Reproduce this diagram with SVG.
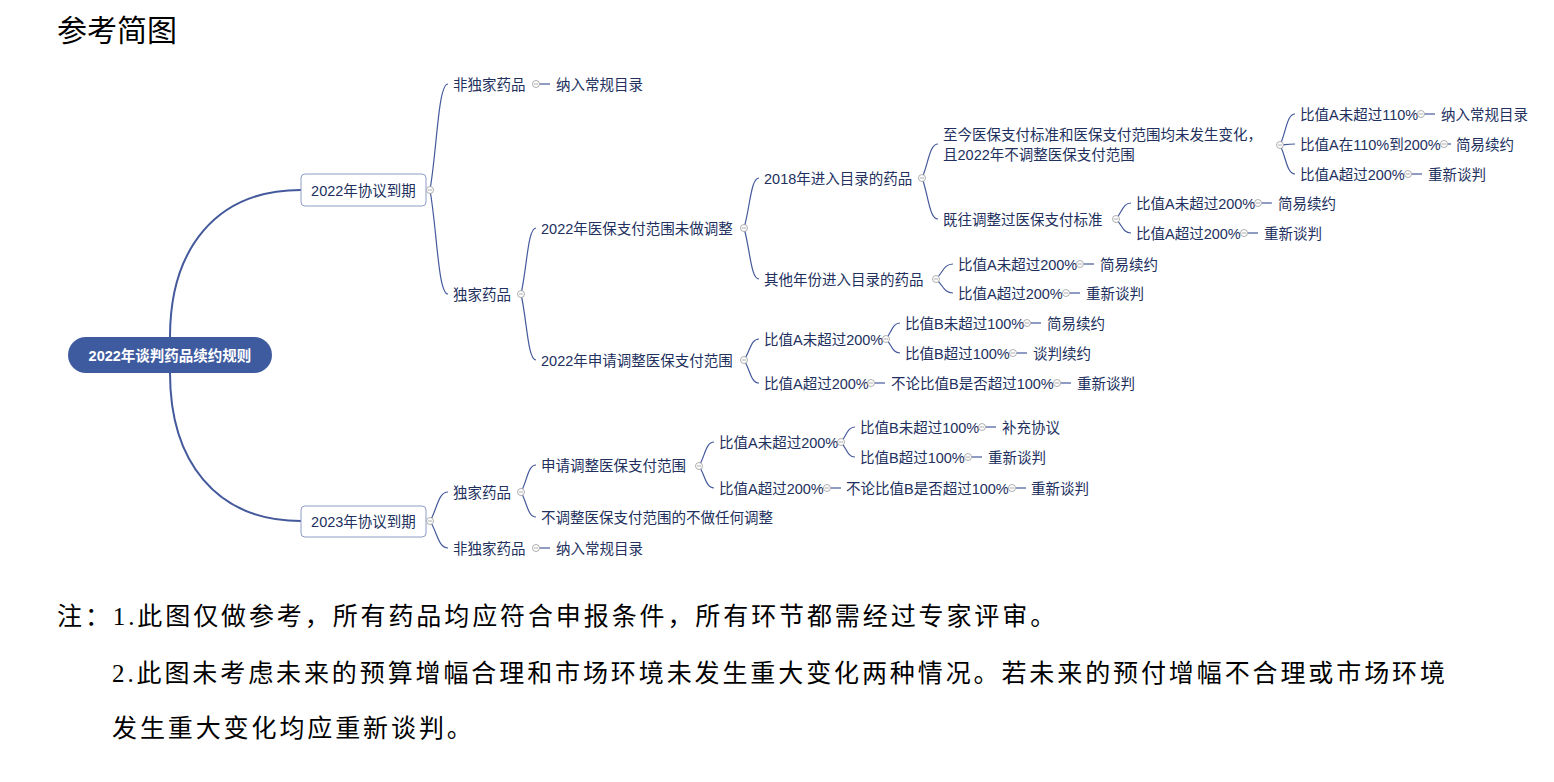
<svg xmlns="http://www.w3.org/2000/svg" xmlns:xlink="http://www.w3.org/1999/xlink" width="1554" height="782" viewBox="0 0 1554 782">
<style>
.t{font-family:"Liberation Sans","Noto Sans CJK SC",sans-serif;font-size:14.5px;fill:#22305e}
.rt{font-family:"Liberation Sans","Noto Sans CJK SC",sans-serif;font-size:14.5px;font-weight:bold;fill:#ffffff}
.b{fill:none;stroke:#44599c;stroke-width:1.2}
.rb{fill:none;stroke:#44599c;stroke-width:2}
.d{stroke:#44599c;stroke-width:1.2}
.box{fill:#ffffff;stroke:#8d9cc6;stroke-width:1}
.title{font-family:"Noto Sans CJK SC",sans-serif;font-size:30px;fill:#000}
.note{font-family:"Liberation Serif","Noto Sans CJK SC",serif;font-size:25px;letter-spacing:2.9px;fill:#000}
</style>
<defs>
<g id="mk"><circle cx="0" cy="0" r="3.5" fill="#ffffff" stroke="#9a9a9a" stroke-width="0.8"/><line x1="-2" y1="0" x2="2" y2="0" stroke="#9a9a9a" stroke-width="0.8"/></g>
</defs>
<rect width="1554" height="782" fill="#ffffff"/>
<text class="title" x="57" y="41">参考简图</text>

<g id="connectors">
<path class="rb" d="M170,337 C170,250 215,190 301,190"/>
<path class="rb" d="M170,373 C170,460 215,521 301,521"/>
<path class="b" d="M430,190 C437.2,147.6 438.1,84 448,84"/>
<path class="b" d="M430,190 C437.2,231.6 438.1,294 448,294"/>
<path class="b" d="M521,294 C527,267.6 527.75,228 536,228"/>
<path class="b" d="M521,294 C527,320.4 527.75,360 536,360"/>
<path class="b" d="M744,228 C750,208 750.75,178 759,178"/>
<path class="b" d="M744,228 C750,248.4 750.75,279 759,279"/>
<path class="b" d="M922,178 C928.4,164.4 929.2,144 938,144"/>
<path class="b" d="M922,178 C928.4,194.4 929.2,219 938,219"/>
<path class="b" d="M1280,145 C1286,132.6 1286.75,114 1295,114"/>
<path class="b" d="M1280,145 C1286,144.6 1286.75,144 1295,144"/>
<path class="b" d="M1280,145 C1286,156.6 1286.75,174 1295,174"/>
<path class="b" d="M1116,219 C1122,212.6 1122.75,203 1131,203"/>
<path class="b" d="M1116,219 C1122,224.6 1122.75,233 1131,233"/>
<path class="b" d="M936,279 C942.8,273 943.65,264 953,264"/>
<path class="b" d="M936,279 C942.8,284.6 943.65,293 953,293"/>
<path class="b" d="M744,360 C750,351.6 750.75,339 759,339"/>
<path class="b" d="M744,360 C750,369.2 750.75,383 759,383"/>
<path class="b" d="M886,339 C891.6,332.6 892.3,323 900,323"/>
<path class="b" d="M886,339 C891.6,344.6 892.3,353 900,353"/>
<path class="b" d="M430,521 C437.2,509.4 438.1,492 448,492"/>
<path class="b" d="M430,521 C437.2,531.8 438.1,548 448,548"/>
<path class="b" d="M521,492 C527,481.8 527.75,465 536,465"/>
<path class="b" d="M521,492 C527,502.6 527.75,517 536,517"/>
<path class="b" d="M699,466 C705,456.4 705.75,442 714,442"/>
<path class="b" d="M699,466 C705,474.8 705.75,488 714,488"/>
<path class="b" d="M841,442 C846.6,436 847.3,427 855,427"/>
<path class="b" d="M841,442 C846.6,448 847.3,457 855,457"/>
<line class="d" x1="539.5" y1="84" x2="550" y2="84"/>
<line class="d" x1="539.5" y1="548" x2="550" y2="548"/>
<line class="d" x1="874.5" y1="383" x2="885" y2="383"/>
<line class="d" x1="1060.5" y1="383" x2="1071" y2="383"/>
<line class="d" x1="830.5" y1="488" x2="841" y2="488"/>
<line class="d" x1="1015.5" y1="488" x2="1026" y2="488"/>
<line class="d" x1="1083.5" y1="264" x2="1094" y2="264"/>
<line class="d" x1="1069.5" y1="293" x2="1080" y2="293"/>
<line class="d" x1="1030.5" y1="323" x2="1041" y2="323"/>
<line class="d" x1="1016.5" y1="353" x2="1027" y2="353"/>
<line class="d" x1="985.5" y1="427" x2="996" y2="427"/>
<line class="d" x1="971.5" y1="457" x2="982" y2="457"/>
<line class="d" x1="1424.5" y1="114" x2="1435" y2="114"/>
<line class="d" x1="1447.5" y1="144" x2="1451" y2="144"/>
<line class="d" x1="1411.5" y1="174" x2="1422" y2="174"/>
<line class="d" x1="1261.5" y1="203" x2="1272" y2="203"/>
<line class="d" x1="1247.5" y1="233" x2="1258" y2="233"/>
</g>

<g id="root">
<rect x="68" y="337" width="204" height="36" rx="18" fill="#3f5ba0"/>
<text class="rt" x="170" y="360.5" text-anchor="middle">2022年谈判药品续约规则</text>
</g>

<g id="n2022">
<rect class="box" x="301" y="174" width="125" height="32" rx="4"/>
<text class="t" x="363.5" y="195.5" text-anchor="middle">2022年协议到期</text>
<use xlink:href="#mk" href="#mk" x="430" y="190"/>
</g>
<g id="n2023">
<rect class="box" x="301" y="506" width="125" height="31" rx="4"/>
<text class="t" x="363.5" y="527" text-anchor="middle">2023年协议到期</text>
<use xlink:href="#mk" href="#mk" x="430" y="521"/>
</g>

<g id="n22-nonexcl"><text class="t" x="453" y="89.5">非独家药品</text><use xlink:href="#mk" href="#mk" x="536" y="84"/></g>
<g id="n22-nonexcl-r"><text class="t" x="556" y="89.5">纳入常规目录</text></g>
<g id="n22-excl"><text class="t" x="453" y="299.5">独家药品</text><use xlink:href="#mk" href="#mk" x="521" y="294"/></g>

<g id="n22-noadj"><text class="t" x="541" y="233.5">2022年医保支付范围未做调整</text><use xlink:href="#mk" href="#mk" x="744" y="228"/></g>
<g id="n22-adj"><text class="t" x="541" y="365.5">2022年申请调整医保支付范围</text><use xlink:href="#mk" href="#mk" x="744" y="360"/></g>

<g id="n2018"><text class="t" x="764" y="183.5">2018年进入目录的药品</text><use xlink:href="#mk" href="#mk" x="922" y="178"/></g>
<g id="nother"><text class="t" x="764" y="284.5">其他年份进入目录的药品</text><use xlink:href="#mk" href="#mk" x="936" y="279"/></g>

<g id="nunchanged"><text class="t" x="943" y="139.5">至今医保支付标准和医保支付范围均未发生变化，</text><text class="t" x="943" y="159.5">且2022年不调整医保支付范围</text><use xlink:href="#mk" href="#mk" x="1280" y="145"/></g>
<g id="nadjstd"><text class="t" x="943" y="224.5">既往调整过医保支付标准</text><use xlink:href="#mk" href="#mk" x="1116" y="219"/></g>

<g id="nu1"><text class="t" x="1300" y="119.5">比值A未超过110%</text><use xlink:href="#mk" href="#mk" x="1421" y="114"/></g>
<g id="nu1r"><text class="t" x="1441" y="119.5">纳入常规目录</text></g>
<g id="nu2"><text class="t" x="1300" y="149.5">比值A在110%到200%</text><use xlink:href="#mk" href="#mk" x="1444" y="144"/></g>
<g id="nu2r"><text class="t" x="1456" y="149.5">简易续约</text></g>
<g id="nu3"><text class="t" x="1300" y="179.5">比值A超过200%</text><use xlink:href="#mk" href="#mk" x="1408" y="174"/></g>
<g id="nu3r"><text class="t" x="1428" y="179.5">重新谈判</text></g>

<g id="na1"><text class="t" x="1136" y="208.5">比值A未超过200%</text><use xlink:href="#mk" href="#mk" x="1258" y="203"/></g>
<g id="na1r"><text class="t" x="1278" y="208.5">简易续约</text></g>
<g id="na2"><text class="t" x="1136" y="238.5">比值A超过200%</text><use xlink:href="#mk" href="#mk" x="1244" y="233"/></g>
<g id="na2r"><text class="t" x="1264" y="238.5">重新谈判</text></g>

<g id="no1"><text class="t" x="958" y="269.5">比值A未超过200%</text><use xlink:href="#mk" href="#mk" x="1080" y="264"/></g>
<g id="no1r"><text class="t" x="1100" y="269.5">简易续约</text></g>
<g id="no2"><text class="t" x="958" y="298.5">比值A超过200%</text><use xlink:href="#mk" href="#mk" x="1066" y="293"/></g>
<g id="no2r"><text class="t" x="1086" y="298.5">重新谈判</text></g>

<g id="nj1"><text class="t" x="764" y="344.5">比值A未超过200%</text><use xlink:href="#mk" href="#mk" x="886" y="339"/></g>
<g id="nj1a"><text class="t" x="905" y="328.5">比值B未超过100%</text><use xlink:href="#mk" href="#mk" x="1027" y="323"/></g>
<g id="nj1ar"><text class="t" x="1047" y="328.5">简易续约</text></g>
<g id="nj1b"><text class="t" x="905" y="358.5">比值B超过100%</text><use xlink:href="#mk" href="#mk" x="1013" y="353"/></g>
<g id="nj1br"><text class="t" x="1033" y="358.5">谈判续约</text></g>
<g id="nj2"><text class="t" x="764" y="388.5">比值A超过200%</text><use xlink:href="#mk" href="#mk" x="871" y="383"/></g>
<g id="nj2a"><text class="t" x="891" y="388.5">不论比值B是否超过100%</text><use xlink:href="#mk" href="#mk" x="1057" y="383"/></g>
<g id="nj2ar"><text class="t" x="1077" y="388.5">重新谈判</text></g>

<g id="n23-excl"><text class="t" x="453" y="497.5">独家药品</text><use xlink:href="#mk" href="#mk" x="521" y="492"/></g>
<g id="n23-nonexcl"><text class="t" x="453" y="553.5">非独家药品</text><use xlink:href="#mk" href="#mk" x="536" y="548"/></g>
<g id="n23-nonexcl-r"><text class="t" x="556" y="553.5">纳入常规目录</text></g>
<g id="n23-adj"><text class="t" x="541" y="470.5">申请调整医保支付范围</text><use xlink:href="#mk" href="#mk" x="699" y="466"/></g>
<g id="n23-noadj"><text class="t" x="541" y="522.5">不调整医保支付范围的不做任何调整</text></g>

<g id="nk1"><text class="t" x="719" y="447.5">比值A未超过200%</text><use xlink:href="#mk" href="#mk" x="841" y="442"/></g>
<g id="nk1a"><text class="t" x="860" y="432.5">比值B未超过100%</text><use xlink:href="#mk" href="#mk" x="982" y="427"/></g>
<g id="nk1ar"><text class="t" x="1002" y="432.5">补充协议</text></g>
<g id="nk1b"><text class="t" x="860" y="462.5">比值B超过100%</text><use xlink:href="#mk" href="#mk" x="968" y="457"/></g>
<g id="nk1br"><text class="t" x="988" y="462.5">重新谈判</text></g>
<g id="nk2"><text class="t" x="719" y="493.5">比值A超过200%</text><use xlink:href="#mk" href="#mk" x="827" y="488"/></g>
<g id="nk2a"><text class="t" x="846" y="493.5">不论比值B是否超过100%</text><use xlink:href="#mk" href="#mk" x="1012" y="488"/></g>
<g id="nk2ar"><text class="t" x="1031" y="493.5">重新谈判</text></g>

<g id="notes">
<text class="note" x="57" y="624.5">注：1.此图仅做参考，所有药品均应符合申报条件，所有环节都需经过专家评审。</text>
<text class="note" x="112" y="681.5">2.此图未考虑未来的预算增幅合理和市场环境未发生重大变化两种情况。若未来的预付增幅不合理或市场环境</text>
<text class="note" x="112" y="736.5">发生重大变化均应重新谈判。</text>
</g>
</svg>
